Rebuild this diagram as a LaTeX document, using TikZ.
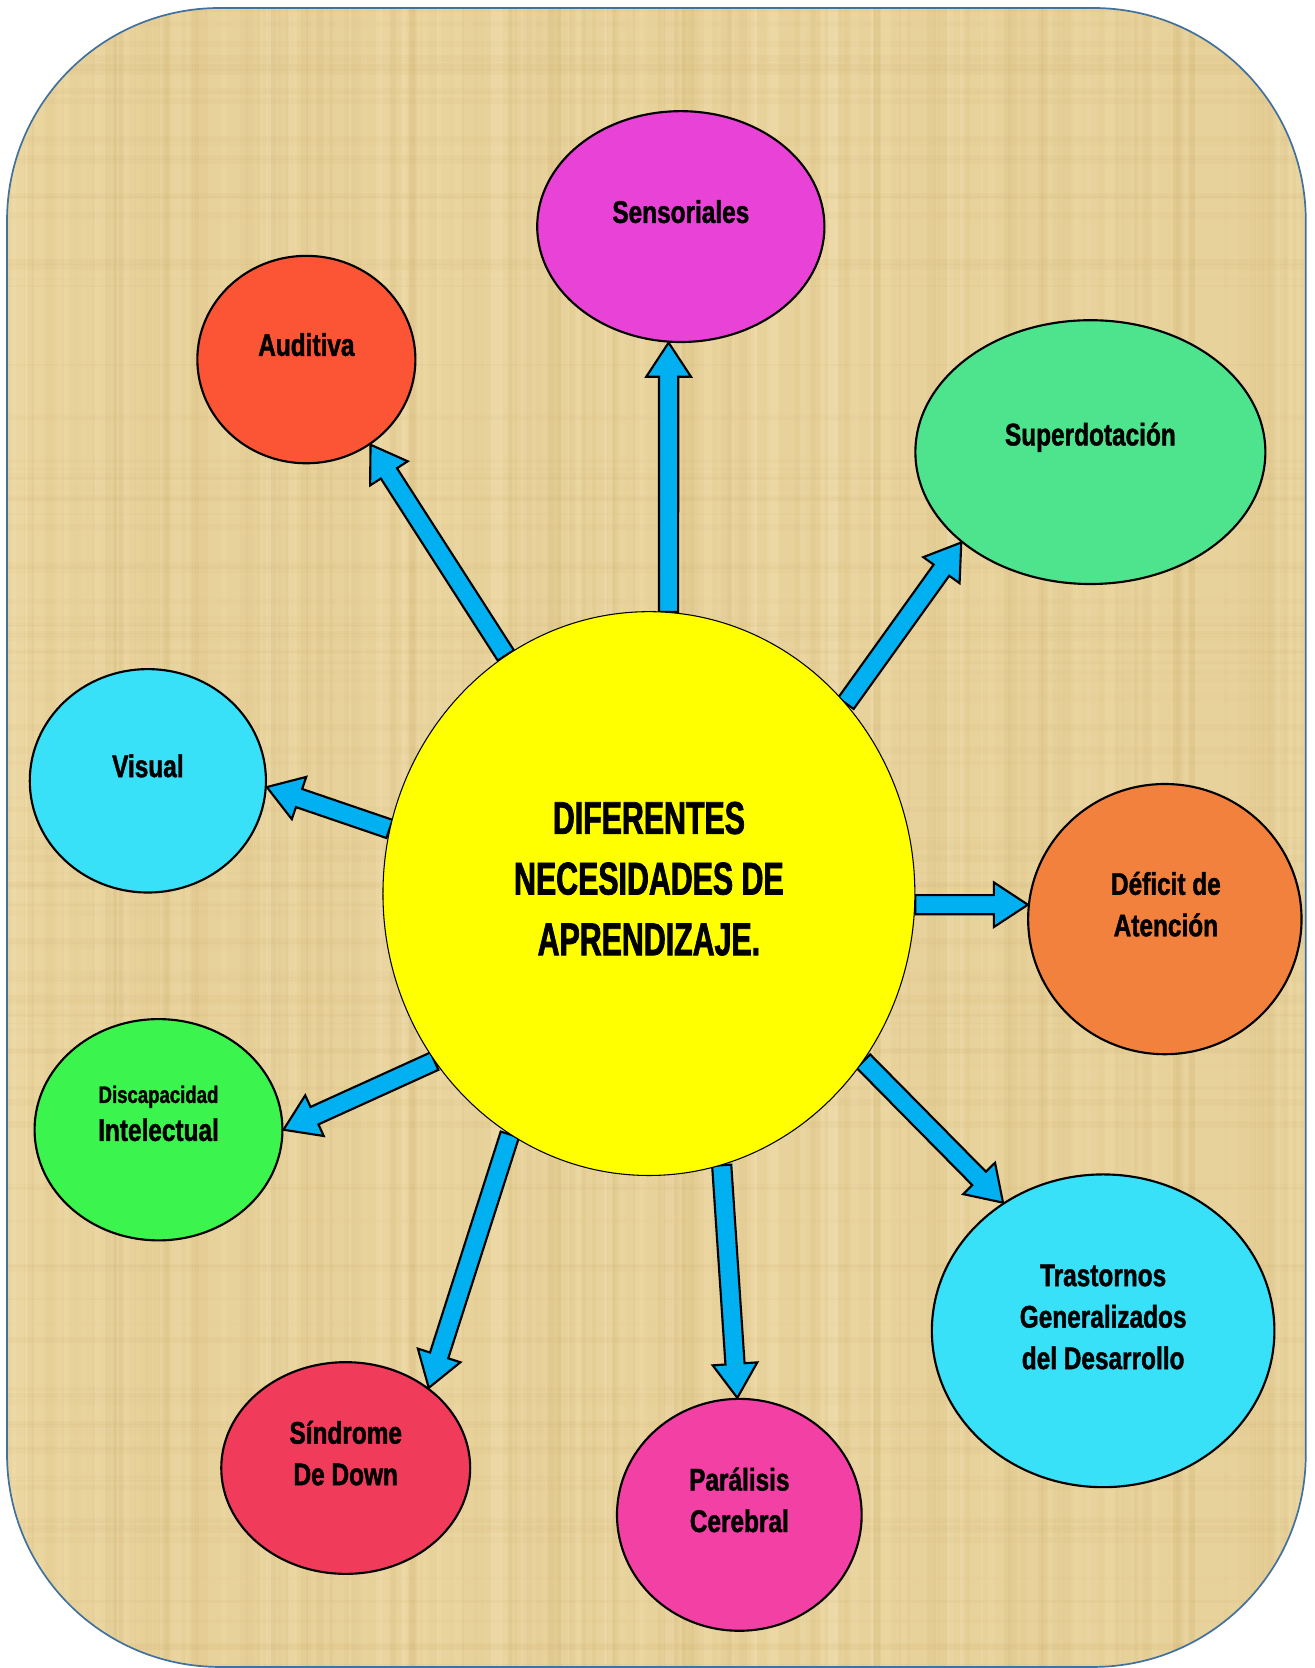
\documentclass[tikz,border=0pt]{standalone}
\usepackage{fontspec}
\usetikzlibrary{calc,shapes.geometric}
\newfontfamily\lblfont{Liberation Sans}[FakeStretch=0.78, FakeBold=1.3]
\newfontfamily\ttlfont{Liberation Sans}[FakeStretch=0.66, FakeBold=1.6]
\definecolor{papyrus}{RGB}{232,210,155}
\definecolor{papdark}{RGB}{196,165,95}
\definecolor{paplight}{RGB}{250,236,196}
\definecolor{borderblue}{RGB}{65,113,156}
\definecolor{arrowblue}{RGB}{0,176,240}
\definecolor{cyellow}{RGB}{255,255,0}
\definecolor{cmagenta}{RGB}{233,66,214}
\definecolor{cred}{RGB}{252,85,53}
\definecolor{cgreen}{RGB}{78,228,142}
\definecolor{ccyan}{RGB}{56,224,248}
\definecolor{corange}{RGB}{243,129,62}
\definecolor{clime}{RGB}{59,245,78}
\definecolor{crose}{RGB}{240,59,91}
\definecolor{cpink}{RGB}{243,64,164}
\pgfdeclarelayer{bg}
\pgfdeclarelayer{arr}
\pgfsetlayers{bg,arr,main}
\tikzset{
  bubble/.style={ellipse, draw=black, line width=1pt, inner sep=0pt},
  lbl/.style={font=\lblfont\bfseries\fontsize{14.7}{19.5}\selectfont, align=center, inner sep=0pt, text=black},
  ttl/.style={font=\ttlfont\bfseries\fontsize{21.6}{28.5}\selectfont, align=center, inner sep=0pt, text=black},
  barrowstyle/.style={fill=arrowblue, draw=black, line width=1pt, line join=miter},
}
\newcommand\blockarrow[2]{%
  \coordinate (tmpB) at ($(#2)!16pt!(#1)$);
  \draw[barrowstyle] ($(#1)!4.5pt!90:(#2)$) -- ($(tmpB)!4.5pt!90:(#2)$) -- ($(tmpB)!10.5pt!90:(#2)$) -- (#2) -- ($(tmpB)!10.5pt!-90:(#2)$) -- ($(tmpB)!4.5pt!-90:(#2)$) -- ($(#1)!4.5pt!-90:(#2)$) -- cycle;}
\begin{document}
\begin{tikzpicture}[x=0.5pt,y=-0.5pt]
\useasboundingbox (0,0) rectangle (1236,1568);
% background
\begin{pgfonlayer}{bg}
\begin{scope}
  \clip[rounded corners=100pt] (6.6,7.5) rectangle (1227.5,1567);
  \fill[papyrus] (0,0) rectangle (1236,1568);
  \pgfmathsetseed{42}
  \foreach \i in {1,...,140} {
    \pgfmathsetmacro\xx{rnd*1236}
    \pgfmathsetmacro\ww{1+rnd*10}
    \pgfmathsetmacro\op{0.03+rnd*0.08}
    \fill[papdark, opacity=\op] (\xx,0) rectangle ++(\ww,1568);
  }
  \foreach \i in {1,...,110} {
    \pgfmathsetmacro\xx{rnd*1236}
    \pgfmathsetmacro\ww{1+rnd*10}
    \pgfmathsetmacro\op{0.06+rnd*0.14}
    \fill[paplight, opacity=\op] (\xx,0) rectangle ++(\ww,1568);
  }
  \foreach \i in {1,...,120} {
    \pgfmathsetmacro\yy{rnd*1568}
    \pgfmathsetmacro\hh{1+rnd*6}
    \pgfmathsetmacro\op{0.02+rnd*0.06}
    \fill[papdark, opacity=\op] (0,\yy) rectangle ++(1236,\hh);
  }
\end{scope}
\end{pgfonlayer}
\draw[borderblue, line width=0.8pt, rounded corners=100pt] (6.6,7.5) rectangle (1227.5,1567);

% nodes
\node[bubble, fill=cyellow, line width=0.5pt, minimum width=250pt, minimum height=265pt] (c) at (610,840) {};
\node[bubble, fill=cmagenta, minimum width=135pt, minimum height=108.5pt] (sen) at (640,213) {};
\node[bubble, fill=cred, minimum width=102.5pt, minimum height=97.5pt] (aud) at (288,338) {};
\node[bubble, fill=cgreen, minimum width=164.5pt, minimum height=124pt] (sup) at (1025,425) {};
\node[bubble, fill=ccyan, minimum width=111pt, minimum height=105pt] (vis) at (139,734) {};
\node[bubble, fill=corange, minimum width=128.5pt, minimum height=127pt] (def) at (1095,864) {};
\node[bubble, fill=clime, minimum width=116.5pt, minimum height=104pt] (dis) at (149,1062) {};
\node[bubble, fill=ccyan, minimum width=161pt, minimum height=147pt] (tra) at (1037,1251) {};
\node[bubble, fill=crose, minimum width=117pt, minimum height=99.5pt] (sin) at (325,1380) {};
\node[bubble, fill=cpink, minimum width=115pt, minimum height=109pt] (par) at (695,1424) {};

% texts
\node[ttl] (tc) at (610,826) {DIFERENTES\\NECESIDADES DE\\APRENDIZAJE.};
\node[lbl] (tsen) at (640,199) {Sensoriales};
\node[lbl] (taud) at (288,324) {Auditiva};
\node[lbl] (tsup) at (1025,411) {Superdotación};
\node[lbl] (tvis) at (139,720) {Visual};
\node[lbl] (tdef) at (1096,850) {Déficit de\\Atención};
\node[lbl, font=\lblfont\bfseries\fontsize{11.2}{14}\selectfont] (tdis1) at (149,1031) {Discapacidad};
\node[lbl] (tdis2) at (149,1062) {Intelectual};
\node[lbl] (ttra) at (1037,1238) {Trastornos\\Generalizados\\del Desarrollo};
\node[lbl] (tsin) at (325,1366) {Síndrome\\De Down};
\node[lbl] (tpar) at (695,1410) {Parálisis\\Cerebral};

% connector end points
\coordinate (s1) at (c.121);  \coordinate (e1) at (aud.-53);
\coordinate (s2) at (c.86);   \coordinate (e2) at (sen.264);
\coordinate (s3) at (c.44);   \coordinate (e3) at (sup.215);
\coordinate (s4) at (c.166);  \coordinate (e4) at (vis.-3);
\coordinate (e5) at (def.174); \coordinate (s5) at (c.east |- e5);
\coordinate (s6) at (c.218);  \coordinate (e6) at (dis.0);
\coordinate (s7) at (c.-38);  \coordinate (e7) at (tra.128);
\coordinate (s8) at (c.240);  \coordinate (e8) at (sin.44);
\coordinate (s9) at (c.-75);  \coordinate (e9) at (par.91);

\begin{pgfonlayer}{arr}
\blockarrow{s1}{e1}
\blockarrow{s2}{e2}
\blockarrow{s3}{e3}
\blockarrow{s4}{e4}
\blockarrow{s5}{e5}
\blockarrow{s6}{e6}
\blockarrow{s7}{e7}
\blockarrow{s8}{e8}
\blockarrow{s9}{e9}
\end{pgfonlayer}
\end{tikzpicture}
\end{document}
